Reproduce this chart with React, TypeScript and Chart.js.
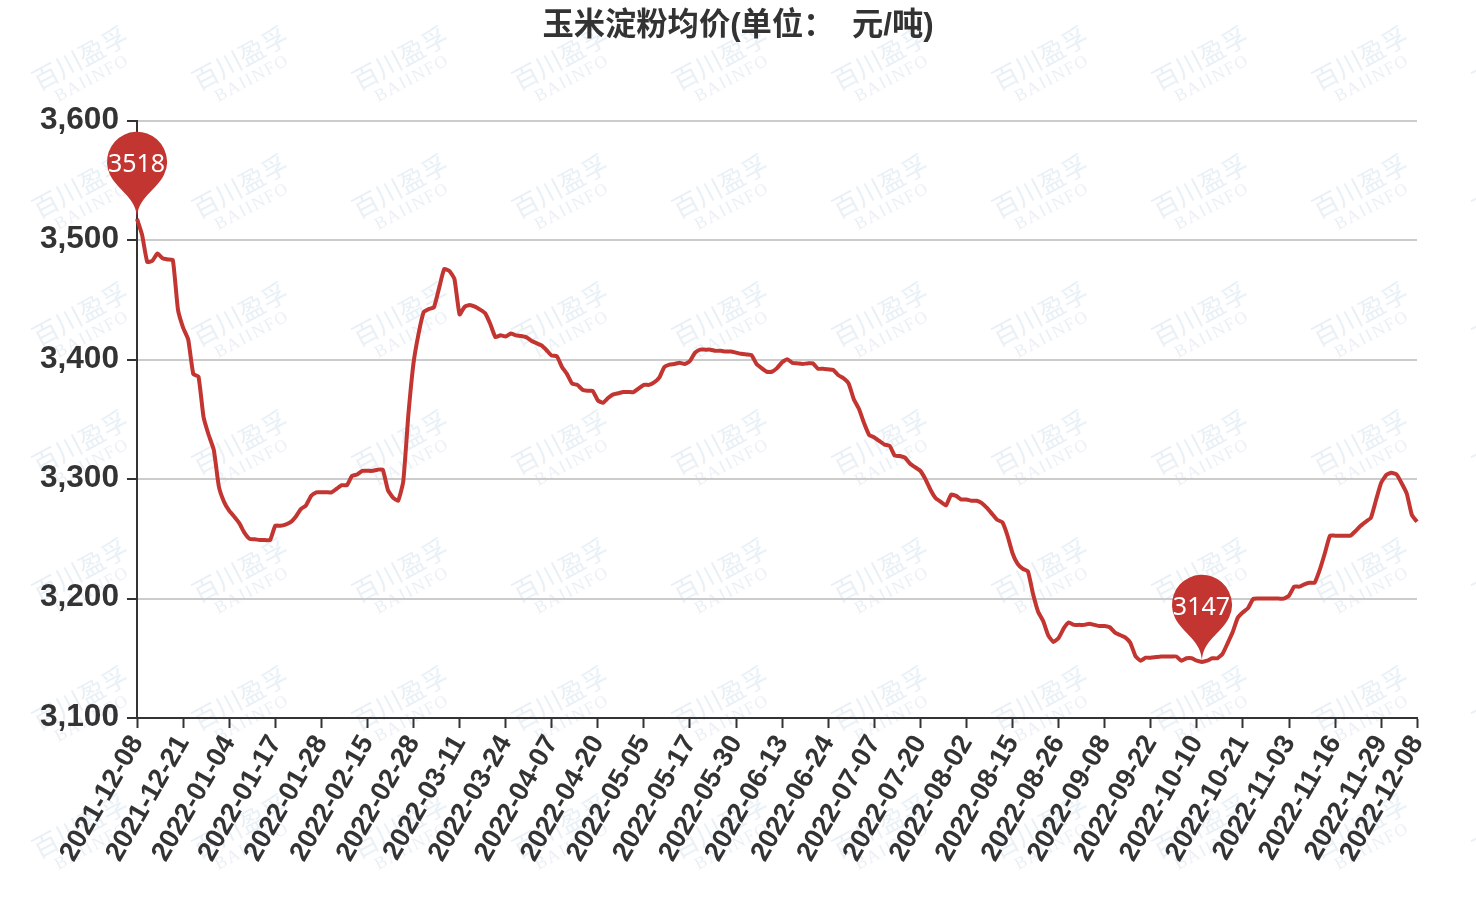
import React, { useEffect, useRef } from "react";
import { Chart, registerables } from "chart.js";

Chart.register(...registerables);

const tickLabels = [
  "2021-12-08","2021-12-21","2022-01-04","2022-01-17","2022-01-28","2022-02-15","2022-02-28","2022-03-11",
  "2022-03-24","2022-04-07","2022-04-20","2022-05-05","2022-05-17","2022-05-30","2022-06-13","2022-06-24",
  "2022-07-07","2022-07-20","2022-08-02","2022-08-15","2022-08-26","2022-09-08","2022-09-22","2022-10-10",
  "2022-10-21","2022-11-03","2022-11-16","2022-11-29",
];
const lastLabel = "2022-12-08";
const prices = [
  3518,3504.5,3482,3483,3489,3485,3484,3483.5,3442,3427,
  3417,3388,3386,3352,3337,3324.5,3293.5,3281,3273.6,3268.6,
  3263,3255,3250,3249.7,3249,3249,3249,3261,3261,3262,
  3264,3268.6,3275,3278,3286,3289,3289,3289,3289,3292,
  3295,3295,3302.7,3304,3307,3307,3307,3308,3308,3291,
  3284.5,3282,3298,3354,3397,3422,3440,3442.5,3444,3460,
  3476,3474.5,3467.7,3438,3444.5,3446,3444.5,3442,3439,3430,
  3419,3420.5,3419.5,3422,3420.5,3420,3419,3416,3414,3412,
  3408,3403.5,3403,3394,3388,3380,3379,3375,3374,3374,
  3366,3364,3368,3371,3372,3373,3373,3373,3376,3379,
  3379,3381,3385,3394,3396,3396.5,3397.5,3396.5,3399,3406,
  3408.5,3408.5,3408.5,3407.5,3407.5,3407,3407,3406,3405,3404.5,
  3404,3396.5,3393,3390,3390,3393,3398,3400.5,3397.5,3397,
  3396.5,3397,3397,3392.5,3392.5,3392,3391.5,3387,3384.5,3380,
  3367,3359,3347,3337,3335,3332,3329,3328,3319.7,3319.5,
  3318,3313,3310,3307,3300,3291,3284,3281,3278,3287,
  3286,3283,3283,3282,3282,3280,3276,3271,3266,3264,
  3253,3238,3229,3225,3223,3204,3189,3181,3169,3163.7,
  3167,3175,3180,3178,3178,3178,3179,3178,3177,3177,
  3176,3171.5,3169.5,3167.5,3163,3152,3148,3150.5,3150.5,3151,
  3151.5,3151.5,3151.5,3151.5,3148,3150,3150,3148,3147,3148,
  3150,3150,3153.6,3162.5,3172,3184,3188.5,3192,3199.7,3200,
  3200,3200,3200,3200,3200,3202.5,3210,3210,3212,3213.3,
  3213.3,3224,3238,3252.7,3252.7,3252.7,3252.7,3252.7,3256.6,3261,
  3264.4,3267.7,3282.6,3297,3303.5,3305.4,3304,3296.6,3288,3270,
  3264.4,
];
const titleText = "玉米淀粉均价(单位：  元/吨)";
const watermarkCn = "百川盈孚";
const watermarkEn = "BAIINFO";
const lineColor = "#c23531";
const textColor = "#333333";

const categories = prices.map((_, i) =>
  i === prices.length - 1 ? lastLabel : i % 9 === 0 ? tickLabels[i / 9] ?? "" : ""
);

const watermarkPlugin = {
  id: "watermark",
  beforeDraw(chart: any) {
    const c = chart.ctx;
    c.save();
    c.fillStyle = "#ffffff";
    c.fillRect(0, 0, chart.width, chart.height);
    c.fillStyle = "#e9f0f6";
    c.textAlign = "center";
    c.textBaseline = "middle";
    for (let col = 0; col < 10; col++) {
      for (let row = 0; row < 8; row++) {
        c.save();
        c.translate(80 + col * 160, 58 + row * 128);
        c.rotate((-28 * Math.PI) / 180);
        c.font = '26px "Noto Sans CJK SC"';
        c.fillText(watermarkCn, 0, 0);
        c.font = '17.5px "Liberation Serif"';
        c.letterSpacing = "1.5px";
        c.fillText(watermarkEn, 1, 24);
        c.letterSpacing = "0px";
        c.restore();
      }
    }
    c.restore();
  },
};

const titlePlugin = {
  id: "pageTitle",
  afterDraw(chart: any) {
    const c = chart.ctx;
    c.save();
    c.fillStyle = textColor;
    c.font = 'bold 31.3px "Liberation Sans","Noto Sans CJK SC",sans-serif';
    c.textAlign = "center";
    c.textBaseline = "middle";
    c.fillText(titleText, 738, 26);
    c.restore();
  },
};

const pinPlugin = {
  id: "pins",
  afterDatasetsDraw(chart: any) {
    const c = chart.ctx;
    const xs = chart.scales.x;
    const ys = chart.scales.y;
    const max = Math.max(...prices);
    const min = Math.min(...prices);
    for (const v of [max, min]) {
      const x = xs.getPixelForValue(prices.indexOf(v));
      const y = ys.getPixelForValue(v);
      const r = 30;
      const h = 100;
      const dy = (r * r) / (h - r);
      const cy = y - h + r + dy;
      const angle = Math.asin(dy / r);
      const dx = Math.cos(angle) * r;
      const tanX = Math.sin(angle);
      const tanY = Math.cos(angle);
      const cpLen = r * 0.6;
      const cpLen2 = r * 0.7;
      c.save();
      c.fillStyle = lineColor;
      c.beginPath();
      c.moveTo(x - dx, cy + dy);
      c.arc(x, cy, r, Math.PI - angle, Math.PI * 2 + angle);
      c.bezierCurveTo(x + dx - tanX * cpLen, cy + dy + tanY * cpLen, x, y - cpLen2, x, y);
      c.bezierCurveTo(x, y - cpLen2, x - dx + tanX * cpLen, cy + dy + tanY * cpLen, x - dx, cy + dy);
      c.closePath();
      c.fill();
      c.fillStyle = "#ffffff";
      c.font = '25px "Noto Sans"';
      c.textAlign = "center";
      c.textBaseline = "middle";
      c.fillText(String(v), x - 0.5, cy + 3.5);
      c.restore();
    }
  },
};

export default function App() {
  const ref = useRef<HTMLCanvasElement>(null);
  useEffect(() => {
    document.body.style.margin = "0";
    const chart = new Chart(ref.current as HTMLCanvasElement, {
      type: "line",
      data: {
        labels: categories,
        datasets: [
          {
            data: prices,
            borderColor: lineColor,
            borderWidth: 4,
            pointRadius: 0,
            tension: 0.15,
            fill: false,
          },
        ],
      },
      options: {
        animation: false,
        responsive: false,
        layout: { padding: { right: 59, left: 0, bottom: 0, top: 121 } },
        plugins: {
          legend: { display: false },
          tooltip: { enabled: false },
          title: { display: false },
        },
        scales: {
          x: {
            type: "category",
            offset: false,
            afterBuildTicks(s: any) {
              s.ticks = s.ticks.filter((t: any) => categories[t.value] !== "");
            },
            afterFit(s: any) {
              s.height = 182;
            },
            grid: {
              drawOnChartArea: false,
              drawTicks: true,
              tickLength: 10,
              tickWidth: 2,
              tickColor: textColor,
            },
            border: { color: textColor, width: 2 },
            ticks: {
              autoSkip: false,
              minRotation: 60,
              maxRotation: 60,
              align: "end",
              padding: 2,
              color: textColor,
              font: { family: '"Liberation Sans",sans-serif', size: 27.3, weight: "bold" },
              callback(this: any, v: any) {
                return categories[v];
              },
            },
          },
          y: {
            min: 3100,
            max: 3600,
            afterFit(s: any) {
              s.width = 137;
            },
            grid: {
              color: "#cccccc",
              lineWidth: 2,
              tickLength: 10,
              tickWidth: 2,
              tickColor: textColor,
            },
            border: { color: textColor, width: 2 },
            ticks: {
              stepSize: 100,
              padding: 8,
              color: textColor,
              font: { family: '"Liberation Sans",sans-serif', size: 31.6, weight: "bold", lineHeight: "2px" },
              callback: (v: any) => [Number(v).toLocaleString("en-US"), ""],
            },
          },
        },
      },
      plugins: [watermarkPlugin, pinPlugin, titlePlugin],
    } as any);
    return () => chart.destroy();
  }, []);
  return <canvas ref={ref} width={1476} height={900} style={{ display: "block" }} />;
}
